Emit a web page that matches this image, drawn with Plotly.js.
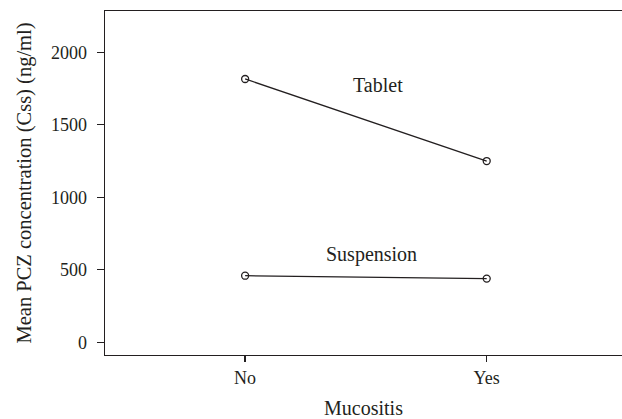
<!DOCTYPE html>
<html>
<head>
<meta charset="utf-8">
<script src="https://cdn.plot.ly/plotly-3.0.1.min.js"></script>
<style>html,body{margin:0;padding:0;background:#fff;}#chart{width:622px;height:419px;}</style>
</head>
<body>
<div id="chart"></div>
<script>
const categories = ["No", "Yes"];
const tabletValues = [1816, 1250];
const suspensionValues = [459, 439];
const seriesNames = ["Tablet", "Suspension"];
const yTickValues = [0, 500, 1000, 1500, 2000];

const FONT = "Liberation Serif, Times New Roman, serif";
const INK = "#231f20";

function trace(vals) {
  return {
    x: [0, 1], y: vals, type: "scatter", mode: "lines+markers",
    line: {color: INK, width: 1.3},
    marker: {symbol: "circle-open", size: 7, color: INK, line: {width: 1.3, color: INK}},
    showlegend: false, hoverinfo: "skip"
  };
}

const data = [trace(tabletValues), trace(suspensionValues)];

const layout = {
  width: 622, height: 419,
  margin: {l: 105, r: 0, t: 11, b: 64},
  paper_bgcolor: "#fff", plot_bgcolor: "#fff",
  font: {family: FONT, color: INK, size: 18},
  xaxis: {
    range: [-0.58, 1.56], tickmode: "array", tickvals: [0, 1], ticktext: categories,
    showgrid: false, zeroline: false, showline: true, mirror: true, linecolor: INK, linewidth: 1.3,
    ticks: "outside", ticklen: 6, tickcolor: INK, tickwidth: 1.3,
    tickfont: {family: FONT, size: 18, color: INK},
    title: {text: "Mucositis", font: {family: FONT, size: 20, color: INK}, standoff: 14}
  },
  yaxis: {
    range: [-88, 2285], tickmode: "array", tickvals: yTickValues,
    showgrid: false, zeroline: false, showline: true, mirror: false, linecolor: INK, linewidth: 1.3,
    ticks: "outside", ticklen: 7, tickcolor: INK, tickwidth: 1.3, ticklabelstandoff: 6,
    tickfont: {family: FONT, size: 18, color: INK},
    title: {text: "Mean PCZ concentration (Css) (ng/ml)", font: {family: FONT, size: 20.5, color: INK}, standoff: 14}
  },
  annotations: [
    {x: 0.55, y: 1775, xref: "x", yref: "y", text: seriesNames[0], showarrow: false, font: {family: FONT, size: 20, color: INK}},
    {x: 0.524, y: 602, xref: "x", yref: "y", text: seriesNames[1], showarrow: false, font: {family: FONT, size: 20, color: INK}}
  ]
};

Plotly.newPlot("chart", data, layout, {displayModeBar: false, staticPlot: true});
</script>
</body>
</html>
